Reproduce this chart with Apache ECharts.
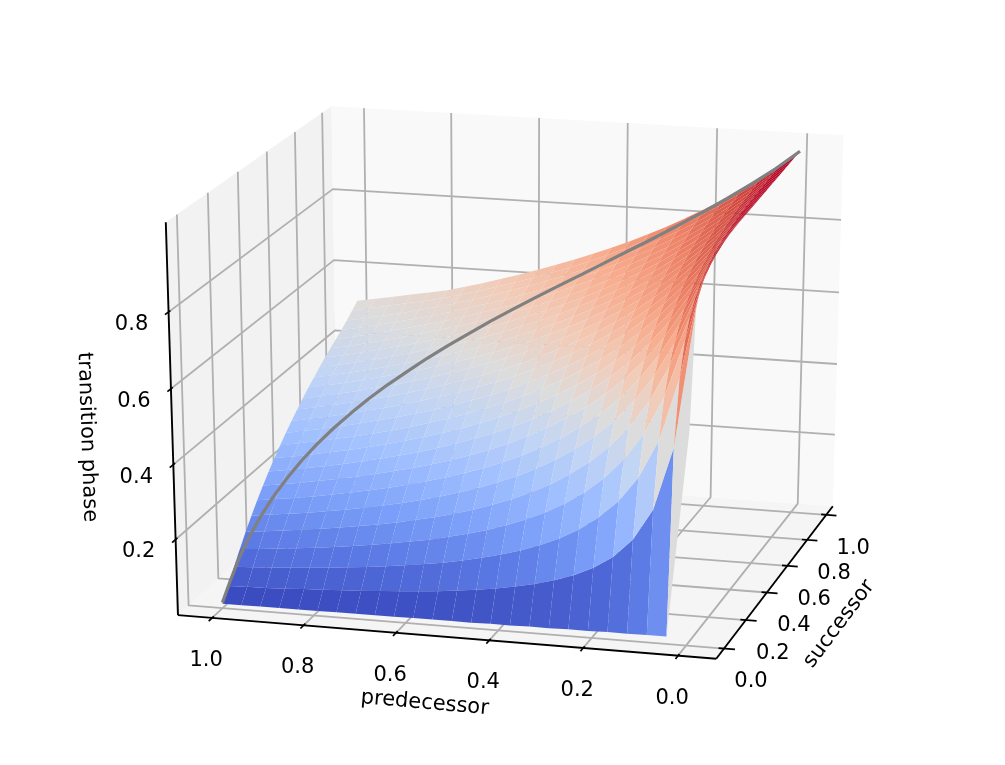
<!DOCTYPE html>
<html>
<head>
<meta charset="utf-8">
<title>transition phase surface</title>
<style>html,body{margin:0;padding:0;background:#fff}#chart{width:1005px;height:765px}</style>
<script src="https://cdn.jsdelivr.net/npm/echarts@6/dist/echarts.min.js"></script>
</head>
<body>
<div id="chart"></div>
<script>
// Grid coordinates of the surface.
const predecessor = [0,0.0417,0.0833,0.125,0.1667,0.2083,0.25,0.2917,0.3333,0.375,0.4167,0.4583,0.5,0.5417,0.5833,0.625,0.6667,0.7083,0.75,0.7917,0.8333,0.875,0.9167,0.9583,1];
const successor = [0,0.0417,0.0833,0.125,0.1667,0.2083,0.25,0.2917,0.3333,0.375,0.4167,0.4583,0.5,0.5417,0.5833,0.625,0.6667,0.7083,0.75,0.7917,0.8333,0.875,0.9167,0.9583,1];

// Transition phase: one row per successor value, one column per predecessor value.
const phase = [
[.56,.015,.015,.014,.014,.013,.013,.012,.012,.011,.011,.010,.010,.010,.010,.009,.009,.009,.009,.008,.008,.008,.008,.007,.007],
[.86,.500,.333,.250,.200,.167,.143,.125,.111,.100,.091,.083,.077,.071,.067,.063,.059,.056,.053,.050,.048,.045,.043,.042,.040],
[.91,.667,.500,.400,.333,.286,.250,.222,.200,.182,.167,.154,.143,.133,.125,.118,.111,.105,.100,.095,.091,.087,.083,.080,.077],
[.93,.750,.600,.500,.429,.375,.333,.300,.273,.250,.231,.214,.200,.188,.176,.167,.158,.150,.143,.136,.130,.125,.120,.115,.111],
[.945,.800,.667,.571,.500,.444,.400,.364,.333,.308,.286,.267,.250,.235,.222,.211,.200,.190,.182,.174,.167,.160,.154,.148,.143],
[.952,.833,.714,.625,.556,.500,.455,.417,.385,.357,.333,.313,.294,.278,.263,.250,.238,.227,.217,.208,.200,.192,.185,.179,.172],
[.958,.857,.750,.667,.600,.545,.500,.462,.429,.400,.375,.353,.333,.316,.300,.286,.273,.261,.250,.240,.231,.222,.214,.207,.200],
[.962,.875,.778,.700,.636,.583,.538,.500,.467,.438,.412,.389,.368,.350,.333,.318,.304,.292,.280,.269,.259,.250,.241,.233,.226],
[.966,.889,.800,.727,.667,.615,.571,.533,.500,.471,.444,.421,.400,.381,.364,.348,.333,.320,.308,.296,.286,.276,.267,.258,.250],
[.969,.900,.818,.750,.692,.643,.600,.563,.529,.500,.474,.450,.429,.409,.391,.375,.360,.346,.333,.321,.310,.300,.290,.281,.273],
[.972,.909,.833,.769,.714,.667,.625,.588,.556,.526,.500,.476,.455,.435,.417,.400,.385,.370,.357,.345,.333,.323,.313,.303,.294],
[.974,.917,.846,.786,.733,.688,.647,.611,.579,.550,.524,.500,.478,.458,.440,.423,.407,.393,.379,.367,.355,.344,.333,.324,.314],
[.976,.923,.857,.800,.750,.706,.667,.632,.600,.571,.545,.522,.500,.480,.462,.444,.429,.414,.400,.387,.375,.364,.353,.343,.333],
[.978,.929,.867,.813,.765,.722,.684,.650,.619,.591,.565,.542,.520,.500,.481,.464,.448,.433,.419,.406,.394,.382,.371,.361,.351],
[.980,.933,.875,.824,.778,.737,.700,.667,.636,.609,.583,.560,.538,.519,.500,.483,.467,.452,.438,.424,.412,.400,.389,.378,.368],
[.982,.938,.882,.833,.789,.750,.714,.682,.652,.625,.600,.577,.556,.536,.517,.500,.484,.469,.455,.441,.429,.417,.405,.395,.385],
[.984,.941,.889,.842,.800,.762,.727,.696,.667,.640,.615,.593,.571,.552,.533,.516,.500,.485,.471,.457,.444,.432,.421,.410,.400],
[.986,.944,.895,.850,.810,.773,.739,.708,.680,.654,.630,.607,.586,.567,.548,.531,.515,.500,.486,.472,.459,.447,.436,.425,.415],
[.988,.947,.900,.857,.818,.783,.750,.720,.692,.667,.643,.621,.600,.581,.563,.545,.529,.514,.500,.486,.474,.462,.450,.439,.429],
[.990,.950,.905,.864,.826,.792,.760,.731,.704,.679,.655,.633,.613,.594,.576,.559,.543,.528,.514,.500,.487,.475,.463,.452,.442],
[.992,.952,.909,.870,.833,.800,.769,.741,.714,.690,.667,.645,.625,.606,.588,.571,.556,.541,.526,.513,.500,.488,.476,.465,.455],
[.994,.955,.913,.875,.840,.808,.778,.750,.724,.700,.677,.656,.636,.618,.600,.583,.568,.553,.538,.525,.512,.500,.488,.477,.467],
[.996,.957,.917,.880,.846,.815,.786,.759,.733,.710,.688,.667,.647,.629,.611,.595,.579,.564,.550,.537,.524,.512,.502,.491,.481],
[.998,.958,.920,.885,.852,.821,.793,.767,.742,.719,.697,.676,.657,.639,.622,.605,.590,.575,.561,.548,.537,.527,.517,.507,.497],
[1.00,.960,.923,.889,.857,.828,.800,.774,.750,.727,.706,.686,.667,.649,.632,.615,.600,.585,.571,.558,.548,.539,.530,.521,.512]
];

// The grey curve lying on the surface.
const curvePredecessor = [1,.999,.995,.988,.978,.966,.951,.934,.914,.891,.866,.839,.809,.777,.743,.707,.669,.629,.588,.545,.5,.454,.407,.358,.309,.259,.208,.156,.105,.052,0];
const curveSuccessor = [0,.052,.105,.156,.208,.259,.309,.358,.407,.454,.5,.545,.588,.629,.669,.707,.743,.777,.809,.839,.866,.891,.914,.934,.951,.966,.978,.988,.995,.999,1];
const curvePhase = [.01,.05,.095,.136,.175,.211,.245,.277,.308,.338,.366,.394,.421,.447,.474,.5,.526,.553,.579,.606,.634,.662,.692,.723,.755,.789,.825,.864,.905,.95,1];

// Axis ticks and labels.
const predecessorTicks = [1,.8,.6,.4,.2,0];
const successorTicks = [0,.2,.4,.6,.8,1];
const phaseTicks = [.2,.4,.6,.8];
const predecessorTickLabels = ['1.0','0.8','0.6','0.4','0.2','0.0'];
const successorTickLabels = ['0.0','0.2','0.4','0.6','0.8','1.0'];
const phaseTickLabels = ['0.2','0.4','0.6','0.8'];

// Data limits of the box.
const predecessorLimits = [-0.08, 1.075];
const successorLimits = [-0.07, 1.07];
const phaseLimits = [-0.005, 1.03];

// coolwarm colour ramp.
const coolwarm = ['#3b4cc0','#5977e3','#7b9ff9','#9ebeff','#c0d4f5','#dddcdc','#f2cbb7','#f7ac8e','#ee8468','#d65244','#b40426'];

// Perspective camera of the 3D box.
const rad = Math.PI / 180, elev = 20 * rad, azim = 195 * rad, dist = 10;
const nv = [Math.cos(elev) * Math.cos(azim), Math.cos(elev) * Math.sin(azim), Math.sin(elev)];
const hl = Math.hypot(nv[0], nv[1]);
const uv = [-nv[1] / hl, nv[0] / hl, 0];
const vv = [nv[1] * uv[2] - nv[2] * uv[1], nv[2] * uv[0] - nv[0] * uv[2], nv[0] * uv[1] - nv[1] * uv[0]];
const dot = (a, b) => a[0] * b[0] + a[1] * b[1] + a[2] * b[2];
const unit = (v, lim) => (v - lim[0]) / (lim[1] - lim[0]);

function view(p, s, z) {
  const d = [unit(s, successorLimits) - .5, unit(p, predecessorLimits) - .5, unit(z, phaseLimits) - .5];
  const w = dist - dot(d, nv);
  return { x: dot(d, uv) / w, y: dot(d, vv) / w, depth: w };
}

const [pLo, pHi] = predecessorLimits, [sLo, sHi] = successorLimits, [zLo, zHi] = phaseLimits;

// Facets sorted far to near. A facet's colour value averages its closed outline,
// so the first corner counts twice.
const facets = [];
for (let j = 0; j < successor.length - 1; j++) {
  for (let i = 0; i < predecessor.length - 1; i++) {
    const corners = [[i, j], [i + 1, j], [i + 1, j + 1], [i, j + 1]];
    const mean = (corners.reduce((a, c) => a + phase[c[1]][c[0]], 0) + phase[j][i]) / 5;
    const depth = corners.reduce((a, c) => a + view(predecessor[c[0]], successor[c[1]], phase[c[1]][c[0]]).depth, 0) / 4;
    facets.push({ corners, mean, depth });
  }
}
facets.sort((a, b) => b.depth - a.depth);
const meanMin = Math.min(...facets.map(f => f.mean));
const meanMax = Math.max(...facets.map(f => f.mean));

function toPixel(api, p, s, z) {
  const v = view(p, s, z);
  return api.coord([v.x, v.y]);
}

function layer(name, z, count, render) {
  return {
    type: 'custom', name, z, silent: true, animation: false, clip: false, progressive: 0,
    coordinateSystem: 'cartesian2d',
    data: Array.from({ length: count }, (_, k) => [k, 0]),
    encode: { x: 0, y: 1 },
    renderItem: (params, api) => render(params.dataIndex, api)
  };
}

const line = (api, list, stroke, width) => ({
  type: 'polyline',
  shape: { points: list.map(q => toPixel(api, q[0], q[1], q[2])) },
  style: { stroke, lineWidth: width, fill: null, lineJoin: 'round' }
});

function label(api, at, dx, dy, text, size, rotation) {
  const c = toPixel(api, at[0], at[1], at[2]);
  return {
    type: 'text', x: c[0] + dx, y: c[1] + dy, rotation: (rotation || 0) * rad,
    style: { text, x: 0, y: 0, fill: '#000', font: size + 'px "DejaVu Sans"', align: 'center', verticalAlign: 'middle' }
  };
}

const panes = [
  { corners: [[pLo, sLo, zLo], [pLo, sHi, zLo], [pHi, sHi, zLo], [pHi, sLo, zLo]], fill: '#f5f5f5' },
  { corners: [[pHi, sLo, zLo], [pHi, sHi, zLo], [pHi, sHi, zHi], [pHi, sLo, zHi]], fill: '#f2f2f2' },
  { corners: [[pLo, sHi, zLo], [pHi, sHi, zLo], [pHi, sHi, zHi], [pLo, sHi, zHi]], fill: '#f9f9f9' }
];

const gridLines = [
  ...predecessorTicks.map(t => [[t, sLo, zLo], [t, sHi, zLo], [t, sHi, zHi]]),
  ...successorTicks.map(t => [[pLo, t, zLo], [pHi, t, zLo], [pHi, t, zHi]]),
  ...phaseTicks.map(t => [[pHi, sLo, t], [pHi, sHi, t], [pLo, sHi, t]])
];

const axisLines = [
  [[pHi, sLo, zLo], [pLo, sLo, zLo]],
  [[pLo, sLo, zLo], [pLo, sHi, zLo]],
  [[pHi, sLo, zLo], [pHi, sLo, zHi]]
];

const sSpan = sHi - sLo, pSpan = pHi - pLo;
const tickMarks = [
  ...predecessorTicks.map(t => [[t, sLo - .02 * sSpan, zLo], [t, sLo + .01 * sSpan, zLo]]),
  ...successorTicks.map(t => [[pLo - .02 * pSpan, t, zLo], [pLo + .01 * pSpan, t, zLo]]),
  ...phaseTicks.map(t => [[pHi, sLo - .02 * sSpan, t], [pHi, sLo + .01 * sSpan, t]])
];

const axisTitles = [
  { text: 'predecessor', at: [(pLo + pHi) / 2, sLo, zLo], dx: -19, dy: 66.5, rot: -5 },
  { text: 'successor', at: [pLo, (sLo + sHi) / 2, zLo], dx: 62, dy: 45, rot: 53 },
  { text: 'transition phase', at: [pHi, sLo, (zLo + zHi) / 2], dx: -85, dy: 15, rot: -88 }
];

const series = [
  layer('panes', 1, panes.length, (k, api) => ({
    type: 'polygon',
    shape: { points: panes[k].corners.map(c => toPixel(api, c[0], c[1], c[2])) },
    style: { fill: panes[k].fill }
  })),
  layer('grid', 2, gridLines.length, (k, api) => line(api, gridLines[k], '#b0b0b0', 1.8)),
  layer('axes', 3, axisLines.length, (k, api) => line(api, axisLines[k], '#000', 1.9)),
  layer('ticks', 3, tickMarks.length, (k, api) => line(api, tickMarks[k], '#000', 1.7)),
  layer('surface', 4, facets.length, (k, api) => {
    const f = facets[k];
    return {
      type: 'polygon',
      shape: { points: f.corners.map(c => toPixel(api, predecessor[c[0]], successor[c[1]], phase[c[1]][c[0]])) },
      style: { fill: echarts.color.lerp((f.mean - meanMin) / (meanMax - meanMin), coolwarm) }
    };
  }),
  layer('curve', 5, 1, (k, api) => line(api, curvePredecessor.map((p, n) => [p, curveSuccessor[n], curvePhase[n]]), '#808080', 3.2)),
  layer('predecessor labels', 6, predecessorTicks.length, (k, api) =>
    label(api, [predecessorTicks[k], sLo, zLo], -6, 42.5, predecessorTickLabels[k], 21)),
  layer('successor labels', 6, successorTicks.length, (k, api) =>
    label(api, [pLo, successorTicks[k], zLo], 27, 33.5, successorTickLabels[k], 21)),
  layer('phase labels', 6, phaseTicks.length, (k, api) =>
    label(api, [pHi, sLo, phaseTicks[k]], -37, 12.5, phaseTickLabels[k], 21)),
  layer('axis titles', 6, axisTitles.length, (k, api) => {
    const t = axisTitles[k];
    return label(api, t.at, t.dx, t.dy, t.text, 21, t.rot);
  })
];

const chart = echarts.init(document.getElementById('chart'), null, { renderer: 'canvas' });
chart.setOption({
  backgroundColor: '#ffffff',
  animation: false,
  tooltip: { show: false },
  grid: { left: 0, right: 0, top: 6, height: 751, containLabel: false },
  xAxis: { type: 'value', min: -0.095, max: 0.09, show: false },
  yAxis: { type: 'value', min: -0.095, max: 0.09, show: false },
  series
});
</script>
</body>
</html>
